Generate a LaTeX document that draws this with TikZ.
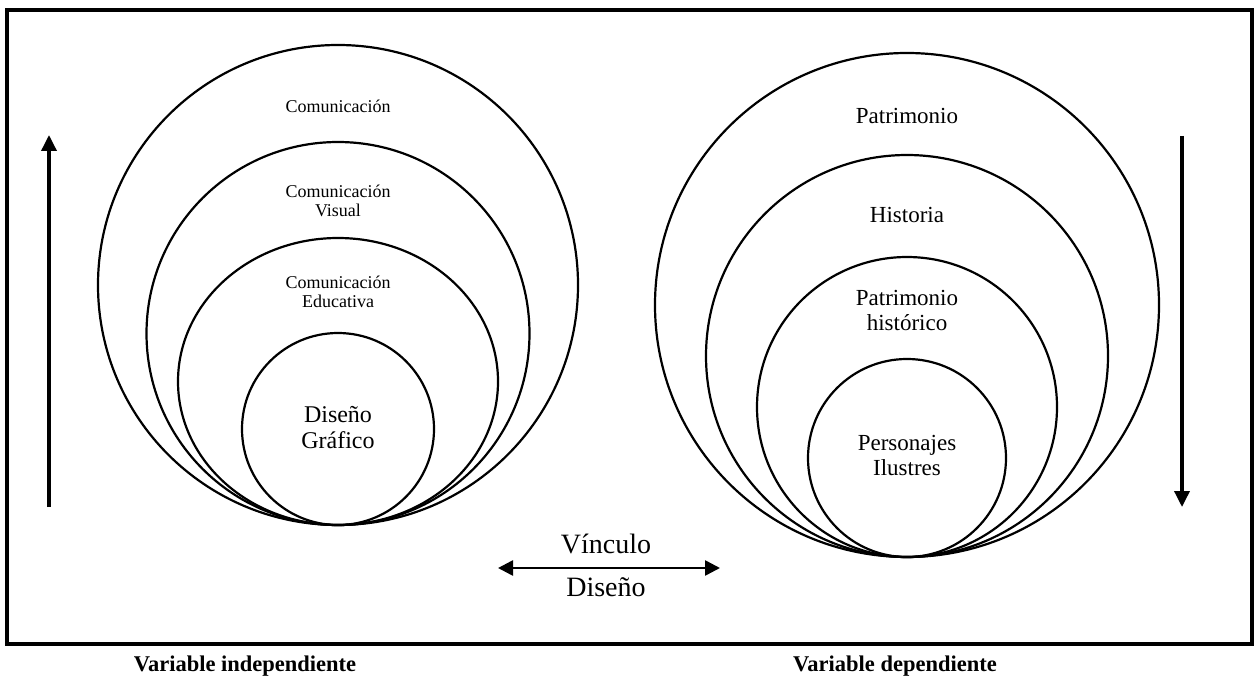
\documentclass[tikz,border=0pt]{standalone}
\usepackage{fontspec}
\setmainfont{Liberation Serif}
\usetikzlibrary{arrows.meta}
\begin{document}
\begin{tikzpicture}[x=1pt,y=-1pt,
  ring/.style={draw, line width=2.2pt},
  smalltxt/.style={font=\fontsize{18}{19.5}\selectfont, align=center, inner sep=0pt},
  midtxt/.style={font=\fontsize{23}{25}\selectfont, align=center, inner sep=0pt},
  bigtxt/.style={font=\fontsize{28}{30}\selectfont, align=center, inner sep=0pt},
  boldtxt/.style={font=\fontsize{22.5}{25}\selectfont\bfseries, inner sep=0pt},
  bigarrow/.style={line width=3.5pt, -{Triangle[length=16pt,width=15pt]}},
  linkarrow/.style={line width=2.6pt, {Triangle[length=15pt,width=15pt]}-{Triangle[length=15pt,width=15pt]}}]
\useasboundingbox (0,0) rectangle (1258,682);
\fill[white] (0,0) rectangle (1258,682);
\draw[line width=3.5pt] (7,10) rectangle (1252,644);
% left set
\draw[ring] (338,285) circle[radius=240pt];
\draw[ring] (338,333.5) circle[radius=191.5pt];
\draw[ring] (338,381.5) ellipse[x radius=160pt, y radius=143.5pt];
\draw[ring] (338,429) circle[radius=96pt];
% right set
\draw[ring] (907,305) circle[radius=252pt];
\draw[ring] (907,356) circle[radius=201pt];
\draw[ring] (907,407) circle[radius=150pt];
\draw[ring] (907,458) circle[radius=99pt];
% texts
\node[smalltxt] (t1) at (338,106) {Comunicación};
\node[smalltxt] (t2) at (338,201) {Comunicación\\Visual};
\node[smalltxt] (t3) at (338,292) {Comunicación\\Educativa};
\node[midtxt, font=\fontsize{24}{26}\selectfont] (t4) at (338,428) {Diseño\\Gráfico};
\node[midtxt] (r1) at (907,116) {Patrimonio};
\node[midtxt] (r2) at (907,215) {Historia};
\node[midtxt] (r3) at (907,310) {Patrimonio\\histórico};
\node[midtxt] (r4) at (907,455) {Personajes\\Ilustres};
\node[bigtxt] (v1) at (606,544) {Vínculo};
\node[bigtxt] (v2) at (606,587) {Diseño};
\node[boldtxt] (b1) at (245,666) {Variable independiente};
\node[boldtxt] (b2) at (895,666) {Variable dependiente};
% arrows
\coordinate (la0) at (49,507);
\coordinate (la1) at (49,135);
\coordinate (ra0) at (1182,136);
\coordinate (ra1) at (1182,507);
\coordinate (da0) at (498,568);
\coordinate (da1) at (720,568);
\draw[bigarrow] (la0) -- (la1);
\draw[bigarrow] (ra0) -- (ra1);
\draw[linkarrow] (da0) -- (da1);
\end{tikzpicture}
\end{document}
